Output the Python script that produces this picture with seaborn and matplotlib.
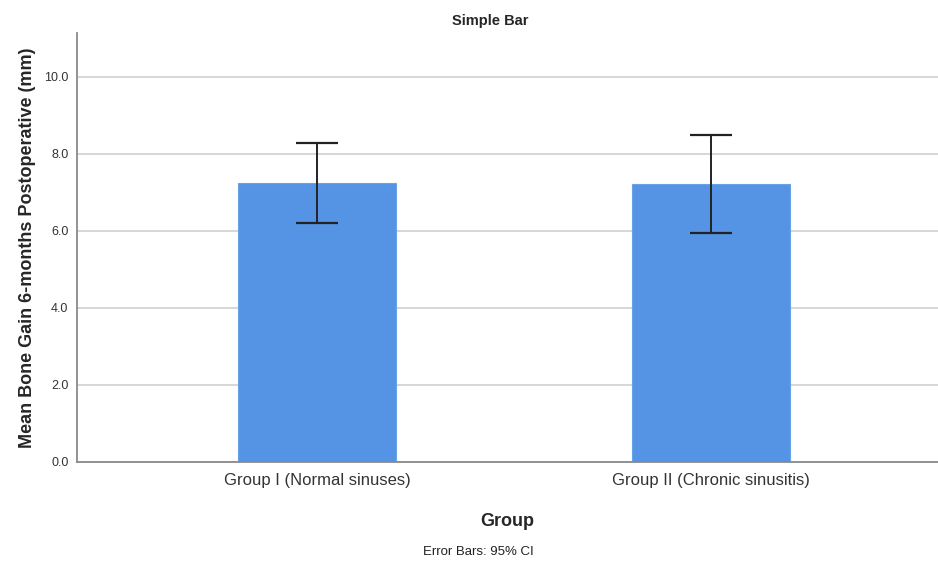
import matplotlib
matplotlib.use("Agg")
import matplotlib.pyplot as plt
import seaborn as sns
import numpy as np
import pandas as pd

# values
groups = ["Group I (Normal sinuses)", "Group II (Chronic sinusitis)"]
means = [7.23, 7.21]
ci_low = [6.20, 5.95]
ci_high = [8.28, 8.50]
y_ticks = [0, 2, 4, 6, 8, 10]

df = pd.DataFrame({"group": groups, "mean": means})

sns.set_style("white")
plt.rcParams["font.family"] = ["Liberation Sans", "DejaVu Sans"]

fig = plt.figure(figsize=(9.38, 5.62), dpi=100)
ax = fig.add_axes([0.0818, 0.1785, 0.9182, 0.7622])

sns.barplot(data=df, x="group", y="mean", color="#5594E4", width=0.4,
            edgecolor="#6aa2e8", linewidth=0.8, saturation=1, errorbar=None, ax=ax, zorder=2)

# 95% CI error bars
m = np.array(means)
yerr = [m - np.array(ci_low), np.array(ci_high) - m]
ax.errorbar(x=np.arange(len(groups)), y=m, yerr=yerr, fmt="none",
            ecolor="#222222", elinewidth=1.4, capsize=15, capthick=1.6, zorder=3)

ax.set_xlim(-0.609, 1.575)
ax.set_ylim(0, 11.13)
ax.set_yticks(y_ticks)
ax.set_yticklabels([f"{v:.1f}" for v in y_ticks], fontsize=9, color="#333333")
ax.tick_params(axis="x", labelsize=12, colors="#333333", length=0, pad=8)
ax.tick_params(axis="y", length=0, pad=6)
for lbl in ax.get_xticklabels():
    lbl.set_color("#333333")

ax.yaxis.grid(True, color="#d0d0d0", linewidth=1.2, zorder=0)
ax.set_axisbelow(True)
for s in ["top", "right"]:
    ax.spines[s].set_visible(False)
for s in ["left", "bottom"]:
    ax.spines[s].set_color("#8a8a8a")
    ax.spines[s].set_linewidth(1.3)

ax.set_xlabel("Group", fontsize=13, fontweight="bold", labelpad=18)
ax.set_ylabel("Mean Bone Gain 6-months Postoperative (mm)", fontsize=13, fontweight="bold", labelpad=6)

fig.text(490 / 938, 1 - 21 / 562, "Simple Bar", ha="center", va="center", fontsize=10.5, fontweight="bold")
fig.text(478 / 938, 1 - 552 / 562, "Error Bars: 95% CI", ha="center", va="center", fontsize=9.5, color="#222222")

fig.savefig("out.png", dpi=100)
